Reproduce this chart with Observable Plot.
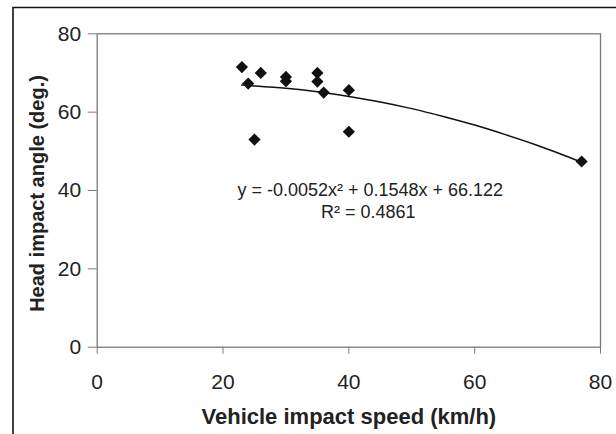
<!DOCTYPE html>
<html>
<head>
<meta charset="utf-8">
<script src="https://cdn.jsdelivr.net/npm/d3@7"></script>
<script src="https://cdn.jsdelivr.net/npm/@observablehq/plot@0.6"></script>
<style>
  html, body { margin: 0; padding: 0; background: #fff; }
  #chart { width: 616px; height: 434px; }
</style>
</head>
<body>
<div id="chart"></div>
<script>
// Observed crashes: vehicle impact speed (km/h) vs head impact angle (deg.)
const speed = [23, 24, 25, 26, 30, 30, 35, 35, 36, 40, 40, 77];
const angle = [71.5, 67.3, 53.0, 70.0, 69.0, 67.9, 70.0, 67.8, 65.0, 65.6, 55.0, 47.4];

// Polynomial trendline
const trendSpeed = [23, 25, 30, 35, 40, 45, 50, 55, 60, 65, 70, 75, 77];
const trendAngle = [66.9, 66.7, 66.1, 65.2, 64.0, 62.6, 60.9, 58.9, 56.7, 54.2, 51.5, 48.5, 47.2];

const xTicks = [0, 20, 40, 60, 80];
const yTicks = [0, 20, 40, 60, 80];

const noteText = ["y = -0.0052x² + 0.1548x + 66.122", "R² = 0.4861"];
const noteX = [43.4, 43.1];
const noteY = [40.0, 34.5];

const xTitle = "Vehicle impact speed (km/h)";
const yTitle = "Head impact angle (deg.)";

const points = speed.map((s, i) => ({speed: s, angle: angle[i]}));
const trend = trendSpeed.map((s, i) => ({speed: s, angle: trendAngle[i]}));
const notes = noteText.map((t, i) => ({text: t, x: noteX[i], y: noteY[i]}));

const W = 616, H = 434;

const outerBorder = () => {
  const p = document.createElementNS("http://www.w3.org/2000/svg", "path");
  p.setAttribute("d", `M13,${H}V7.5H${W}`);
  p.setAttribute("fill", "none");
  p.setAttribute("stroke", "#111");
  p.setAttribute("stroke-width", "1.6");
  return p;
};

const chart = Plot.plot({
  width: W,
  height: H,
  marginLeft: 96.7,
  marginRight: 16,
  marginTop: 33.3,
  marginBottom: 87.3,
  style: {
    fontFamily: "'Liberation Sans', Arial, sans-serif",
    fontSize: "21px",
    color: "#222",
    background: "#fff"
  },
  x: {domain: [0, 80]},
  y: {domain: [0, 80]},
  marks: [
    outerBorder,
    Plot.frame({stroke: "#7a7a7a", strokeWidth: 1.3}),
    Plot.axisX(xTicks, {tickSize: 7, tickPadding: 20, stroke: "#7a7a7a", label: null, fontSize: 21}),
    Plot.axisY(yTicks, {tickSize: 9, tickPadding: 7, stroke: "#7a7a7a", label: null, fontSize: 21}),
    Plot.line(trend, {x: "speed", y: "angle", stroke: "#111", strokeWidth: 1.5, curve: "monotone-x"}),
    Plot.dot(points, {x: "speed", y: "angle", symbol: "diamond2", r: 5.5, fill: "#111", stroke: "none"}),
    Plot.text(notes, {x: "x", y: "y", text: "text", fontSize: 18, fill: "#222", textAnchor: "middle"}),
    Plot.text([xTitle], {frameAnchor: "bottom", dy: 70, text: d => d, fontSize: 22, fontWeight: "bold", fill: "#222", textAnchor: "middle", lineAnchor: "middle"}),
    Plot.text([yTitle], {frameAnchor: "left", dx: -60, dy: 3, text: d => d, rotate: -90, fontSize: 20, fontWeight: "bold", fill: "#222", textAnchor: "middle", lineAnchor: "middle"})
  ]
});

document.getElementById("chart").appendChild(chart);
</script>
</body>
</html>
